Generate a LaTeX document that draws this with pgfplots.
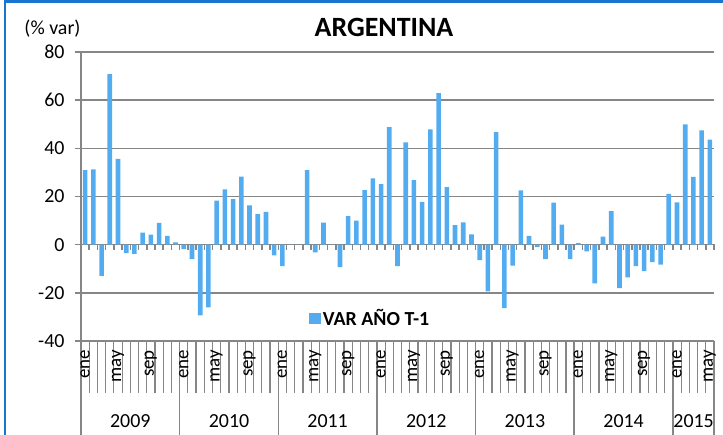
\documentclass[border=0pt]{standalone}
\usepackage{fontspec}
\setmainfont{Carlito}
\usepackage{pgfplots}
\usepackage{pgfplotstable}
\pgfplotsset{compat=1.18}
\definecolor{barblue}{RGB}{83,172,240}
\definecolor{gridgray}{RGB}{134,134,134}
\definecolor{frameblue}{RGB}{24,118,210}
\pgfplotstableread{
i v
0 31.0
1 31.3
2 -13.0
3 70.8
4 35.6
5 -3.5
6 -3.8
7 5.0
8 4.2
9 9.0
10 3.6
11 1.0
12 -1.8
13 -6.0
14 -29.4
15 -26.0
16 18.3
17 23.0
18 18.9
19 28.3
20 16.3
21 12.7
22 13.6
23 -4.4
24 -8.9
25 0
26 0
27 31.0
28 -3.2
29 9.2
30 0
31 -9.3
32 11.9
33 10.0
34 22.6
35 27.5
36 25.1
37 48.8
38 -8.9
39 42.5
40 26.8
41 17.8
42 47.9
43 62.9
44 23.9
45 8.1
46 9.3
47 4.3
48 -6.4
49 -19.4
50 46.7
51 -26.4
52 -8.75
53 22.5
54 3.6
55 -1.0
56 -6.0
57 17.5
58 8.3
59 -6.0
60 0.6
61 -2.8
62 -16.1
63 3.3
64 13.9
65 -18.0
66 -13.6
67 -8.9
68 -11.0
69 -7.2
70 -8.3
71 21.1
72 17.6
73 49.9
74 28.1
75 47.5
76 43.6
}\datatable
\begin{document}
\begin{tikzpicture}
\useasboundingbox (0,0) rectangle (723bp,435bp);
\begin{axis}[
  at={(81bp,94bp)}, anchor=south west,
  scale only axis, width=633bp, height=289bp,
  xmin=-0.5, xmax=76.5, ymin=-40, ymax=80,
  axis x line=none, axis y line*=left,
  ytick={-40,-20,0,20,40,60,80},
  ymajorgrids,
  major grid style={gridgray, line width=1.5bp},
  y axis line style={gridgray, line width=1.5bp},
  ytick style={gridgray, line width=1.5bp},
  tick align=outside, major tick length=6bp,
  yticklabel style={font=\fontsize{20}{24}\selectfont, text=black, xshift=-7bp},
  /pgf/number format/assume math mode=true,
  xtick=\empty,
  ybar, bar width=4.6bp,
  legend style={at={(0.457,0.078)}, anchor=center, draw=none, fill=none,
    font=\bfseries\fontsize{20}{24}\selectfont, inner sep=0pt},
  legend image code/.code={\fill[barblue] (0bp,-5.75bp) rectangle (11.5bp,5.75bp);},
]
\addplot[fill=barblue, draw=none] table[x=i, y=v] {\datatable};
\addlegendentry{VAR AÑO T-1}
\end{axis}
\begin{scope}[x=1bp, y=-1bp, shift={(0,435bp)}]
  % zero line ticks
  \foreach \k in {0,...,77} {
    \pgfmathsetmacro{\xx}{81+8.2208*\k}
    \draw[gridgray, line width=1.5bp] (\xx,244.5) -- (\xx,250);
  }
  % month separators
  \foreach \k in {0,...,77} {
    \pgfmathsetmacro{\xx}{81+8.2208*\k}
    \draw[gridgray, line width=1.2bp] (\xx,341) -- (\xx,393);
  }
  % year separators
  \foreach \k in {0,12,24,36,48,60,72,77} {
    \pgfmathsetmacro{\xx}{81+8.2208*\k}
    \draw[gridgray, line width=1.5bp] (\xx,341) -- (\xx,440);
  }
  % month labels
  \foreach \i in {0,4,...,76} {
    \pgfmathsetmacro{\xx}{81+8.2208*(\i+0.5)}
    \pgfmathtruncatemacro{\m}{mod(\i,12)}
    \node[rotate=90, anchor=east, inner sep=0pt, font=\fontsize{19}{22}\selectfont]
      at (\xx,350) {\ifnum\m=0 ene\else\ifnum\m=4 may\else sep\fi\fi};
  }
  % year labels
  \foreach \xx/\yr in {130.3/2009, 229/2010, 327.6/2011, 426.3/2012, 524.9/2013, 623.6/2014, 693.6/2015} {
    \node[font=\fontsize{20}{24}\selectfont] at (\xx,421) {\yr};
  }
  % title and unit
  \node[font=\bfseries\fontsize{28}{32}\selectfont] at (384,27.5) {ARGENTINA};
  \node[font=\fontsize{20}{24}\selectfont] at (52.5,29) {(\% var)};
  % frame
  \draw[frameblue, line width=2.5bp] (5,1.3) rectangle (735,450);
\end{scope}
\end{tikzpicture}
\end{document}
